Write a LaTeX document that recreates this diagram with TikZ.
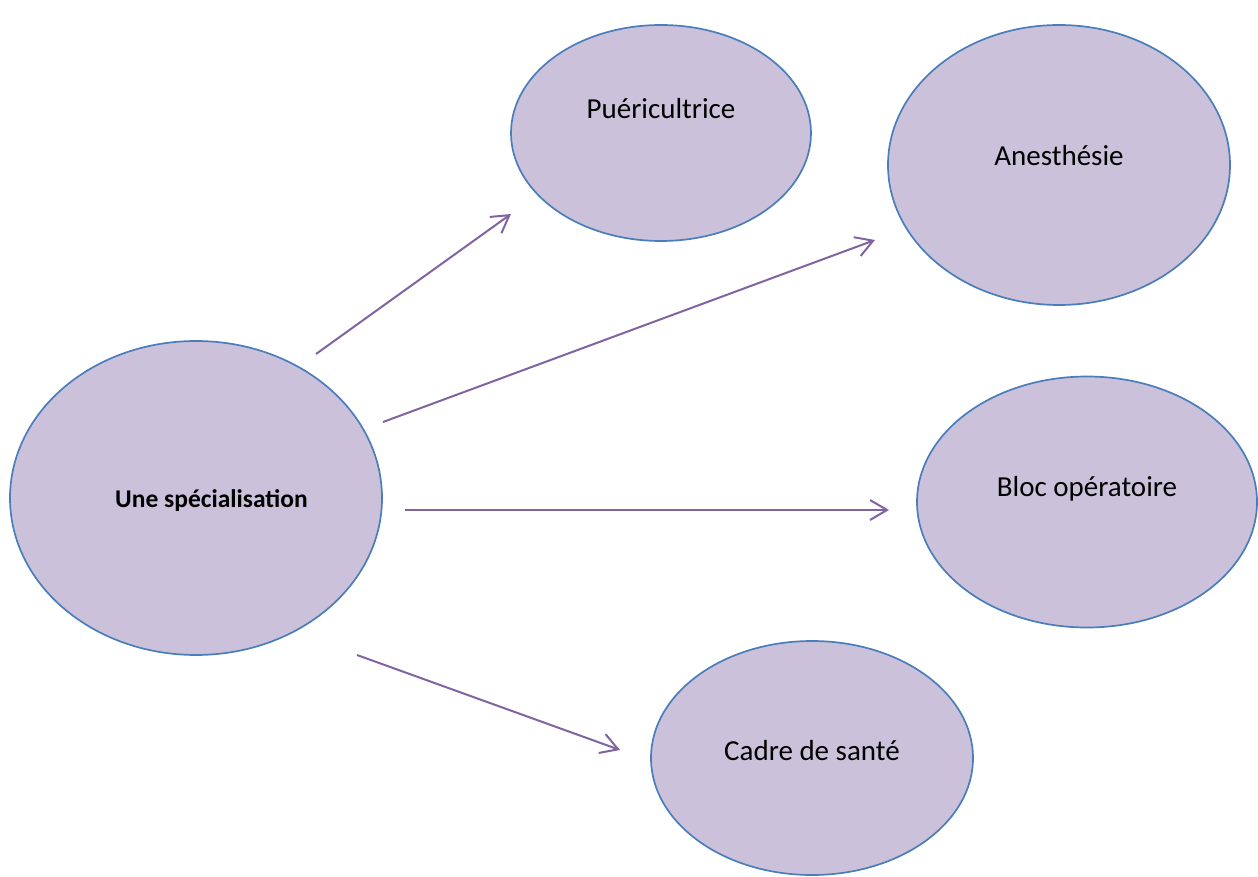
\documentclass[tikz,border=0pt]{standalone}
\usepackage{fontspec}
\setmainfont{Carlito}
\usetikzlibrary{shapes.geometric,arrows.meta}
\definecolor{bubblefill}{HTML}{CCC1DA}
\definecolor{bubbleline}{HTML}{4A7EBB}
\definecolor{arrowcol}{HTML}{8064A2}
\tikzset{
  bubble/.style={ellipse, draw=bubbleline, fill=bubblefill, line width=1.7pt, inner sep=0pt},
  lbl/.style={anchor=base, inner sep=0pt, font=\fontsize{29}{35}\selectfont},
  link/.style={draw=arrowcol, line width=2pt, -{Straight Barb[length=17pt,width=20pt,line width=2pt]}}
}
\begin{document}
\begin{tikzpicture}[x=1pt,y=-1pt]
\useasboundingbox (0,0) rectangle (1258,877);
\node[bubble, minimum width=372pt, minimum height=314pt] (spec) at (196,498) {};
\node[bubble, minimum width=300pt, minimum height=216pt] (puer) at (661,133) {};
\node[bubble, minimum width=342pt, minimum height=280pt] (anes) at (1059,165) {};
\node[bubble, minimum width=340pt, minimum height=251pt] (bloc) at (1087,502) {};
\node[bubble, minimum width=322pt, minimum height=234pt] (cadre) at (812,758) {};

\node[lbl, font=\fontsize{25.5}{31}\selectfont\bfseries] (tspec) at (211.5,507) {Une spécialisation};
\node[lbl] (tpuer) at (661,119) {Puéricultrice};
\node[lbl] (tanes) at (1059,166) {Anesthésie};
\node[lbl] (tbloc) at (1087,496) {Bloc opératoire};
\node[lbl] (tcadre) at (812,760) {Cadre de santé};

\coordinate (s1) at (316,354);
\coordinate (e1) at (511,214);
\coordinate (s2) at (383,422);
\coordinate (e2) at (875,240);
\coordinate (s3) at (405,510);
\coordinate (e3) at (889,510);
\coordinate (s4) at (357,655);
\coordinate (e4) at (620,750);

\draw[link] (s1) -- (e1);
\draw[link] (s2) -- (e2);
\draw[link] (s3) -- (e3);
\draw[link] (s4) -- (e4);
\end{tikzpicture}
\end{document}
